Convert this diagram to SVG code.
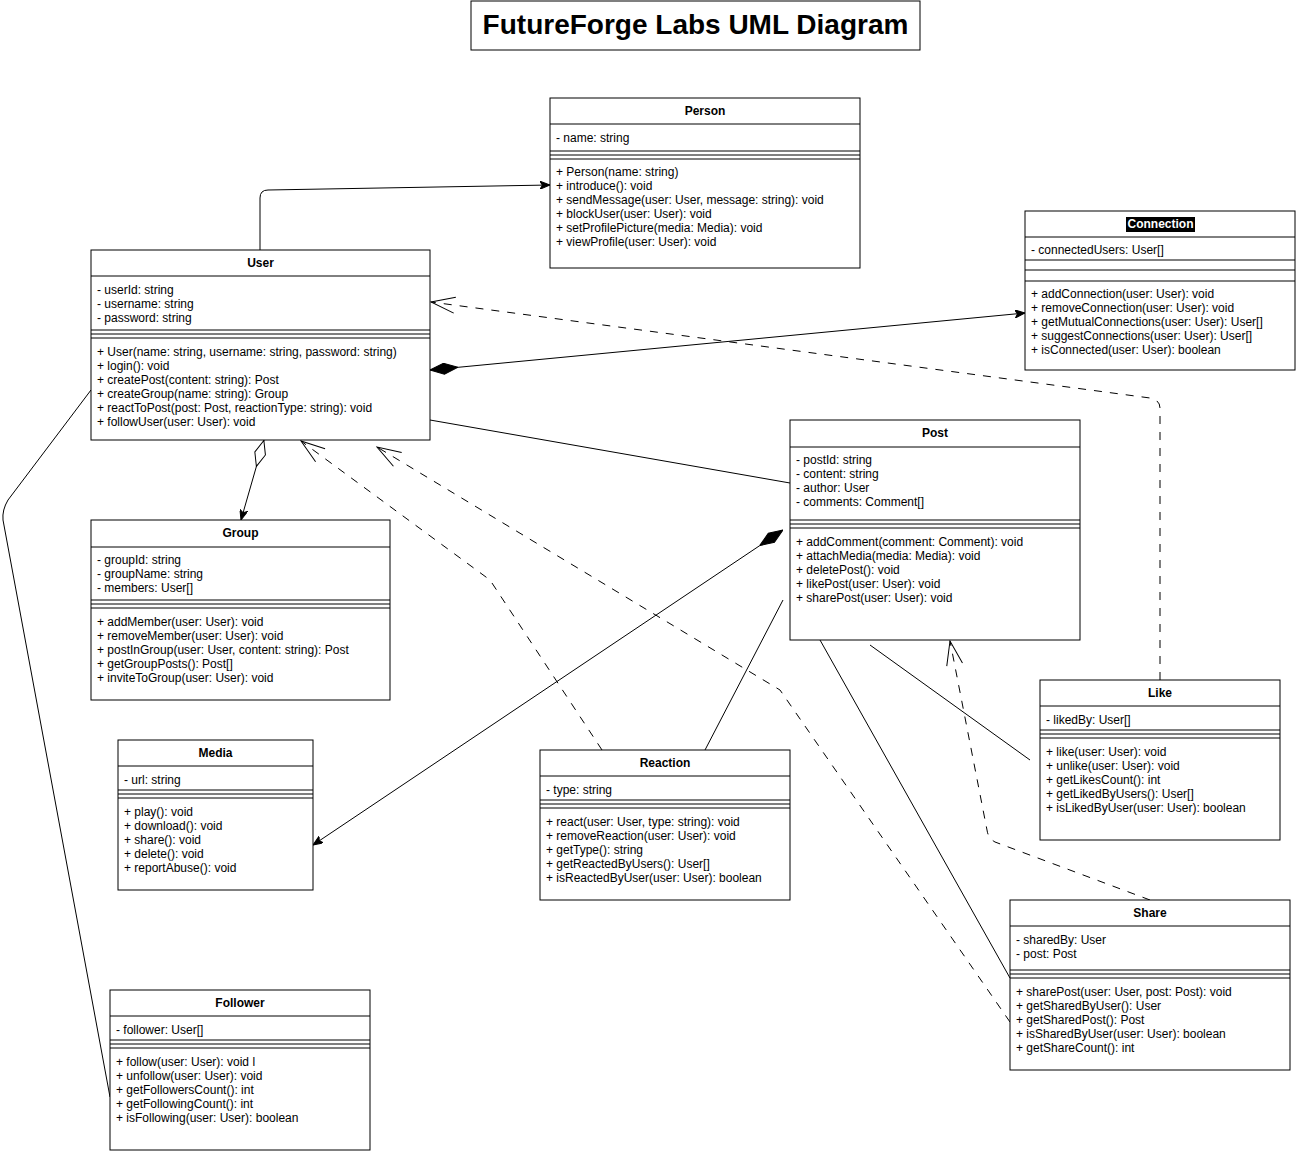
<svg xmlns="http://www.w3.org/2000/svg" width="1297" height="1154" viewBox="0 0 1297 1154">
<style>
.box{fill:#fff;stroke:#000;stroke-width:1}
.ln{stroke:#000;stroke-width:1}
.hd{font-family:"Liberation Sans",Arial,sans-serif;font-size:12px;font-weight:bold;text-anchor:middle;fill:#000}
.tx{font-family:"Liberation Sans",Arial,sans-serif;font-size:12px;fill:#000}
.c{fill:none;stroke:#000;stroke-width:1}
.d{fill:none;stroke:#000;stroke-width:1;stroke-dasharray:8 8}
.title{font-family:"Liberation Sans",Arial,sans-serif;font-size:28px;font-weight:bold;text-anchor:middle;fill:#000}
</style>
<defs>
<marker id="arrow" viewBox="0 0 10 8" refX="10" refY="4" markerWidth="10" markerHeight="8" markerUnits="userSpaceOnUse" orient="auto">
<path d="M0,0 L10,4 L0,8 L2.5,4 z" fill="#000" stroke="#000" stroke-width="1"/>
</marker>
<marker id="open" viewBox="0 0 26 18" refX="25" refY="9" markerWidth="26" markerHeight="18" markerUnits="userSpaceOnUse" orient="auto">
<path d="M1,1 L25,9 L1,17" fill="none" stroke="#000" stroke-width="1"/>
</marker>
<marker id="dfill" viewBox="0 0 28 12" refX="0" refY="6" markerWidth="28" markerHeight="12" markerUnits="userSpaceOnUse" orient="auto">
<path d="M0,6 L14,0.5 L28,6 L14,11.5 z" fill="#000" stroke="#000" stroke-width="1"/>
</marker>
<marker id="dopen" viewBox="0 0 28 12" refX="0" refY="6" markerWidth="28" markerHeight="12" markerUnits="userSpaceOnUse" orient="auto">
<path d="M0.5,6 L14,0.5 L27.5,6 L14,11.5 z" fill="#fff" stroke="#000" stroke-width="1"/>
</marker>
</defs>
<rect width="1297" height="1154" fill="#fff"/>

<g id="title">
<rect class="box" x="471" y="1" width="449" height="49"/>
<text class="title" x="695.5" y="34">FutureForge Labs UML Diagram</text>
</g>

<g id="connectors">
<path class="c" d="M260,250 L260,198 Q260,190 268,190 L550,185" marker-end="url(#arrow)"/>
<path class="c" d="M430,370 L1025,313" marker-start="url(#dfill)" marker-end="url(#arrow)"/>
<path class="d" d="M1160,680 L1160,408 Q1160,400 1150,398 L431,302" marker-end="url(#open)"/>
<path class="c" d="M430,420 L790,483"/>
<path class="c" d="M264,440 L241,520" marker-start="url(#dopen)" marker-end="url(#arrow)"/>
<path class="d" d="M602,750 L490,580 L301,441" marker-end="url(#open)"/>
<path class="d" d="M1010,1022 L780,690 L377,447" marker-end="url(#open)"/>
<path class="d" d="M1150,900 L995,842 Q988,838 987,830 L950,641" marker-end="url(#open)"/>
<path class="c" d="M783,530 L313,845" marker-start="url(#dfill)" marker-end="url(#arrow)"/>
<path class="c" d="M705,750 L783,600"/>
<path class="c" d="M870,645 L1030,760"/>
<path class="c" d="M820,640 L1010,978"/>
<path class="c" d="M91,390 L8,500 Q2,510 3,520 L110,1097"/>
</g>

<g id="person">
<rect class="box" x="550" y="98" width="310" height="170"/>
<line class="ln" x1="550" y1="124" x2="860" y2="124"/>
<line class="ln" x1="550" y1="151" x2="860" y2="151"/>
<line class="ln" x1="550" y1="155" x2="860" y2="155"/>
<line class="ln" x1="550" y1="159" x2="860" y2="159"/>
<text class="hd" x="705" y="115">Person</text>
<text class="tx" x="556" y="142">- name: string</text>
<text class="tx" x="556" y="176">+ Person(name: string)</text>
<text class="tx" x="556" y="190">+ introduce(): void</text>
<text class="tx" x="556" y="204">+ sendMessage(user: User, message: string): void</text>
<text class="tx" x="556" y="218">+ blockUser(user: User): void</text>
<text class="tx" x="556" y="232">+ setProfilePicture(media: Media): void</text>
<text class="tx" x="556" y="246">+ viewProfile(user: User): void</text>
</g>

<g id="connection">
<rect class="box" x="1025" y="211" width="270" height="159"/>
<line class="ln" x1="1025" y1="237" x2="1295" y2="237"/>
<line class="ln" x1="1025" y1="260" x2="1295" y2="260"/>
<line class="ln" x1="1025" y1="270" x2="1295" y2="270"/>
<line class="ln" x1="1025" y1="281" x2="1295" y2="281"/>
<rect x="1126" y="217" width="69" height="15" fill="#000"/>
<text class="hd" x="1160.5" y="228" fill="#fff" style="fill:#fff">Connection</text>
<text class="tx" x="1031" y="254">- connectedUsers: User[]</text>
<text class="tx" x="1031" y="298">+ addConnection(user: User): void</text>
<text class="tx" x="1031" y="312">+ removeConnection(user: User): void</text>
<text class="tx" x="1031" y="326">+ getMutualConnections(user: User): User[]</text>
<text class="tx" x="1031" y="340">+ suggestConnections(user: User): User[]</text>
<text class="tx" x="1031" y="354">+ isConnected(user: User): boolean</text>
</g>

<g id="user">
<rect class="box" x="91" y="250" width="339" height="190"/>
<line class="ln" x1="91" y1="276" x2="430" y2="276"/>
<line class="ln" x1="91" y1="330" x2="430" y2="330"/>
<line class="ln" x1="91" y1="334" x2="430" y2="334"/>
<line class="ln" x1="91" y1="338" x2="430" y2="338"/>
<text class="hd" x="260.5" y="267">User</text>
<text class="tx" x="97" y="294">- userId: string</text>
<text class="tx" x="97" y="308">- username: string</text>
<text class="tx" x="97" y="322">- password: string</text>
<text class="tx" x="97" y="356">+ User(name: string, username: string, password: string)</text>
<text class="tx" x="97" y="370">+ login(): void</text>
<text class="tx" x="97" y="384">+ createPost(content: string): Post</text>
<text class="tx" x="97" y="398">+ createGroup(name: string): Group</text>
<text class="tx" x="97" y="412">+ reactToPost(post: Post, reactionType: string): void</text>
<text class="tx" x="97" y="426">+ followUser(user: User): void</text>
</g>

<g id="post">
<rect class="box" x="790" y="420" width="290" height="220"/>
<line class="ln" x1="790" y1="447" x2="1080" y2="447"/>
<line class="ln" x1="790" y1="520" x2="1080" y2="520"/>
<line class="ln" x1="790" y1="524" x2="1080" y2="524"/>
<line class="ln" x1="790" y1="528" x2="1080" y2="528"/>
<text class="hd" x="935" y="437">Post</text>
<text class="tx" x="796" y="464">- postId: string</text>
<text class="tx" x="796" y="478">- content: string</text>
<text class="tx" x="796" y="492">- author: User</text>
<text class="tx" x="796" y="506">- comments: Comment[]</text>
<text class="tx" x="796" y="546">+ addComment(comment: Comment): void</text>
<text class="tx" x="796" y="560">+ attachMedia(media: Media): void</text>
<text class="tx" x="796" y="574">+ deletePost(): void</text>
<text class="tx" x="796" y="588">+ likePost(user: User): void</text>
<text class="tx" x="796" y="602">+ sharePost(user: User): void</text>
</g>

<g id="group">
<rect class="box" x="91" y="520" width="299" height="180"/>
<line class="ln" x1="91" y1="547" x2="390" y2="547"/>
<line class="ln" x1="91" y1="600" x2="390" y2="600"/>
<line class="ln" x1="91" y1="604" x2="390" y2="604"/>
<line class="ln" x1="91" y1="608" x2="390" y2="608"/>
<text class="hd" x="240.5" y="537">Group</text>
<text class="tx" x="97" y="564">- groupId: string</text>
<text class="tx" x="97" y="578">- groupName: string</text>
<text class="tx" x="97" y="592">- members: User[]</text>
<text class="tx" x="97" y="626">+ addMember(user: User): void</text>
<text class="tx" x="97" y="640">+ removeMember(user: User): void</text>
<text class="tx" x="97" y="654">+ postInGroup(user: User, content: string): Post</text>
<text class="tx" x="97" y="668">+ getGroupPosts(): Post[]</text>
<text class="tx" x="97" y="682">+ inviteToGroup(user: User): void</text>
</g>

<g id="media">
<rect class="box" x="118" y="740" width="195" height="150"/>
<line class="ln" x1="118" y1="766" x2="313" y2="766"/>
<line class="ln" x1="118" y1="790" x2="313" y2="790"/>
<line class="ln" x1="118" y1="794" x2="313" y2="794"/>
<line class="ln" x1="118" y1="798" x2="313" y2="798"/>
<text class="hd" x="215.5" y="757">Media</text>
<text class="tx" x="124" y="784">- url: string</text>
<text class="tx" x="124" y="816">+ play(): void</text>
<text class="tx" x="124" y="830">+ download(): void</text>
<text class="tx" x="124" y="844">+ share(): void</text>
<text class="tx" x="124" y="858">+ delete(): void</text>
<text class="tx" x="124" y="872">+ reportAbuse(): void</text>
</g>

<g id="reaction">
<rect class="box" x="540" y="750" width="250" height="150"/>
<line class="ln" x1="540" y1="776" x2="790" y2="776"/>
<line class="ln" x1="540" y1="800" x2="790" y2="800"/>
<line class="ln" x1="540" y1="804" x2="790" y2="804"/>
<line class="ln" x1="540" y1="808" x2="790" y2="808"/>
<text class="hd" x="665" y="767">Reaction</text>
<text class="tx" x="546" y="794">- type: string</text>
<text class="tx" x="546" y="826">+ react(user: User, type: string): void</text>
<text class="tx" x="546" y="840">+ removeReaction(user: User): void</text>
<text class="tx" x="546" y="854">+ getType(): string</text>
<text class="tx" x="546" y="868">+ getReactedByUsers(): User[]</text>
<text class="tx" x="546" y="882">+ isReactedByUser(user: User): boolean</text>
</g>

<g id="like">
<rect class="box" x="1040" y="680" width="240" height="160"/>
<line class="ln" x1="1040" y1="706" x2="1280" y2="706"/>
<line class="ln" x1="1040" y1="730" x2="1280" y2="730"/>
<line class="ln" x1="1040" y1="734" x2="1280" y2="734"/>
<line class="ln" x1="1040" y1="738" x2="1280" y2="738"/>
<text class="hd" x="1160" y="697">Like</text>
<text class="tx" x="1046" y="724">- likedBy: User[]</text>
<text class="tx" x="1046" y="756">+ like(user: User): void</text>
<text class="tx" x="1046" y="770">+ unlike(user: User): void</text>
<text class="tx" x="1046" y="784">+ getLikesCount(): int</text>
<text class="tx" x="1046" y="798">+ getLikedByUsers(): User[]</text>
<text class="tx" x="1046" y="812">+ isLikedByUser(user: User): boolean</text>
</g>

<g id="share">
<rect class="box" x="1010" y="900" width="280" height="170"/>
<line class="ln" x1="1010" y1="926" x2="1290" y2="926"/>
<line class="ln" x1="1010" y1="970" x2="1290" y2="970"/>
<line class="ln" x1="1010" y1="974" x2="1290" y2="974"/>
<line class="ln" x1="1010" y1="978" x2="1290" y2="978"/>
<text class="hd" x="1150" y="917">Share</text>
<text class="tx" x="1016" y="944">- sharedBy: User</text>
<text class="tx" x="1016" y="958">- post: Post</text>
<text class="tx" x="1016" y="996">+ sharePost(user: User, post: Post): void</text>
<text class="tx" x="1016" y="1010">+ getSharedByUser(): User</text>
<text class="tx" x="1016" y="1024">+ getSharedPost(): Post</text>
<text class="tx" x="1016" y="1038">+ isSharedByUser(user: User): boolean</text>
<text class="tx" x="1016" y="1052">+ getShareCount(): int</text>
</g>

<g id="follower">
<rect class="box" x="110" y="990" width="260" height="160"/>
<line class="ln" x1="110" y1="1016" x2="370" y2="1016"/>
<line class="ln" x1="110" y1="1040" x2="370" y2="1040"/>
<line class="ln" x1="110" y1="1044" x2="370" y2="1044"/>
<line class="ln" x1="110" y1="1048" x2="370" y2="1048"/>
<text class="hd" x="240" y="1007">Follower</text>
<text class="tx" x="116" y="1034">- follower: User[]</text>
<text class="tx" x="116" y="1066">+ follow(user: User): void l</text>
<text class="tx" x="116" y="1080">+ unfollow(user: User): void</text>
<text class="tx" x="116" y="1094">+ getFollowersCount(): int</text>
<text class="tx" x="116" y="1108">+ getFollowingCount(): int</text>
<text class="tx" x="116" y="1122">+ isFollowing(user: User): boolean</text>
</g>
</svg>
